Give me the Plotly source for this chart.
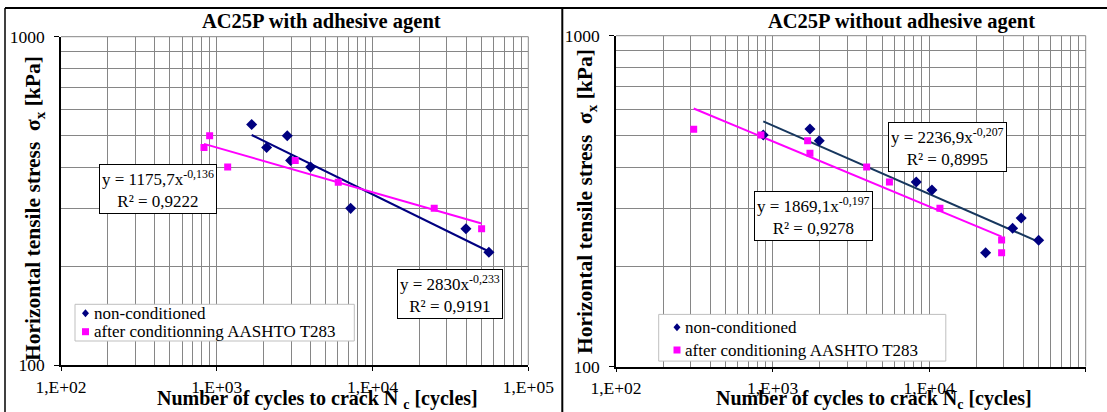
import plotly.graph_objects as go

W, H = 1107, 412
FONT = "Liberation Serif"

# ---------------- data ----------------
x_tick_vals = [100, 1000, 10000, 100000]
x_tick_text = ["1,E+02", "1,E+03", "1,E+04", "1,E+05"]
y_tick_vals = [100, 1000]
y_tick_text = ["100", "1000"]

# Left panel: AC25P with adhesive agent
left_title = "AC25P with adhesive agent"
left_nc_x = [1675, 2090, 2835, 2980, 4005, 7235, 39770, 55850]
left_nc_y = [540, 460, 499, 420, 401, 300, 260, 220.5]
left_c_x = [828, 900, 1175, 3190, 6025, 24890, 50150]
left_c_y = [460, 499, 401, 420, 360, 300, 260]
left_nc_fit = [2830, -0.233, "0,9191", "2830", "-0,233"]
left_c_fit = [1175.7, -0.136, "0,9222", "1175,7", "-0,136"]
left_names = ["non-conditioned", "after conditionning AASHTO T283"]

# Right panel: AC25P without adhesive agent
right_title = "AC25P without adhesive agent"
right_nc_x = [872, 1733, 1987, 8272, 10420, 22950, 34140, 38730, 50050]
right_nc_y = [501, 522, 481.5, 361, 341.6, 220.8, 261.7, 281, 240.7]
right_c_x = [313.5, 843, 1675, 1733, 3990, 5578, 11720, 29040, 29040]
right_c_y = [521, 501, 481.5, 441, 401, 361, 300.7, 241.2, 220.8]
right_nc_fit = [2236.9, -0.207, "0,8995", "2236,9", "-0,207"]
right_c_fit = [1869.1, -0.197, "0,9278", "1869,1", "-0,197"]
right_names = ["non-conditioned", "after conditioning AASHTO T283"]

minor_x = [m * 10 ** e for e in (2, 3, 4) for m in range(2, 10)]
minor_y = [m * 100 for m in range(2, 10)]

NAVY = "#000080"
MAG = "#FF00FF"
GRID = "#868686"

# ---------------- geometry (pixels) ----------------
L = dict(x0=61, x1=528.3, yt=36.7, yb=365)
R = dict(x0=616, x1=1085.7, yt=35.7, yb=366.5)


def px(x):
    return x / W


def py(y):
    return 1 - y / H


fig = go.Figure()


def fit_line(fit, xs):
    a, b = fit[0], fit[1]
    xe = [min(xs), max(xs)]
    return xe, [a * v ** b for v in xe]


def add_panel(suffix, nc_x, nc_y, c_x, c_y, nc_fit, c_fit, names, nc_line_color):
    xa = "x" + suffix
    ya = "y" + suffix
    lx, ly = fit_line(nc_fit, nc_x)
    fig.add_trace(go.Scatter(x=lx, y=ly, mode="lines", line=dict(color=nc_line_color, width=2),
                             xaxis=xa, yaxis=ya, showlegend=False, hoverinfo="skip"))
    lx, ly = fit_line(c_fit, c_x)
    fig.add_trace(go.Scatter(x=lx, y=ly, mode="lines", line=dict(color=MAG, width=2),
                             xaxis=xa, yaxis=ya, showlegend=False, hoverinfo="skip"))
    fig.add_trace(go.Scatter(x=nc_x, y=nc_y, mode="markers", name=names[0],
                             marker=dict(symbol="diamond", size=8.5, color=NAVY),
                             xaxis=xa, yaxis=ya, showlegend=False))
    fig.add_trace(go.Scatter(x=c_x, y=c_y, mode="markers", name=names[1],
                             marker=dict(symbol="square", size=7, color=MAG),
                             xaxis=xa, yaxis=ya, showlegend=False))


add_panel("", left_nc_x, left_nc_y, left_c_x, left_c_y, left_nc_fit, left_c_fit, left_names, NAVY)
add_panel("2", right_nc_x, right_nc_y, right_c_x, right_c_y, right_nc_fit, right_c_fit, right_names, "#17375E")

TICK_SIZE = 17.5


def xaxis_def(g, anchor):
    return dict(type="log", range=[2, 5], domain=[px(g["x0"]), px(g["x1"])], anchor=anchor,
                automargin=False,
                tickvals=x_tick_vals, ticktext=x_tick_text, ticks="outside", ticklen=4,
                tickcolor="black", showline=True, linecolor="black", linewidth=1.5,
                showgrid=True, gridcolor=GRID, gridwidth=1, zeroline=False,
                minor=dict(tickvals=minor_x, showgrid=True, gridcolor=GRID, gridwidth=1, ticks=""),
                tickfont=dict(family=FONT, size=TICK_SIZE, color="black"), ticklabelstandoff=1)


def yaxis_def(g, anchor):
    return dict(type="log", range=[2, 3], domain=[py(g["yb"]), py(g["yt"])], anchor=anchor,
                automargin=False,
                tickvals=y_tick_vals, ticktext=y_tick_text, ticks="outside", ticklen=5,
                tickcolor="black", showline=True, linecolor="black", linewidth=1.5,
                showgrid=True, gridcolor=GRID, gridwidth=1, zeroline=False,
                minor=dict(tickvals=minor_y, showgrid=True, gridcolor=GRID, gridwidth=1, ticks=""),
                tickfont=dict(family=FONT, size=TICK_SIZE, color="black"), ticklabelstandoff=6)


ann = []
shapes = []


def text_ann(x, y, text, size=17, bold=False, angle=0, xanchor="center"):
    if bold:
        text = "<b>" + text + "</b>"
    ann.append(dict(x=px(x), y=py(y), xref="paper", yref="paper", text=text, showarrow=False,
                    xanchor=xanchor, yanchor="middle", textangle=angle,
                    font=dict(family=FONT, size=size, color="black")))


def eq_ann(x, y, fit):
    text = "y = %sx<sup>%s</sup><br>R² = %s" % (fit[3], fit[4], fit[2])
    ann.append(dict(x=px(x), y=py(y), xref="paper", yref="paper", text=text, showarrow=False,
                    xanchor="center", yanchor="middle", align="center",
                    bgcolor="white", bordercolor="black", borderwidth=1, borderpad=2,
                    font=dict(family=FONT, size=17, color="black")))


def legend_box(x0, x1, y0, y1, names, sym_x, text_x, row_y):
    shapes.append(dict(type="rect", xref="paper", yref="paper", x0=px(x0), x1=px(x1),
                       y0=py(y0), y1=py(y1), line=dict(color="#BFBFBF", width=1),
                       fillcolor="white", layer="above"))
    # diamond key
    cx, cy = sym_x, row_y[0]
    shapes.append(dict(type="path", xref="paper", yref="paper",
                       path="M %f,%f L %f,%f L %f,%f L %f,%f Z" % (
                           px(cx), py(cy - 4), px(cx + 3.5), py(cy), px(cx), py(cy + 4), px(cx - 3.5), py(cy)),
                       fillcolor=NAVY, line=dict(width=0), layer="above"))
    # square key
    cx, cy = sym_x, row_y[1]
    shapes.append(dict(type="rect", xref="paper", yref="paper", x0=px(cx - 3.5), x1=px(cx + 3.5),
                       y0=py(cy + 3.5), y1=py(cy - 3.5), fillcolor=MAG, line=dict(width=0), layer="above"))
    for nm, ry in zip(names, row_y):
        text_ann(text_x, ry, nm, 17, False, 0, "left")


TITLE_SIZE = 20.5
text_ann(321, 22, left_title, TITLE_SIZE, True)
text_ann(901, 22, right_title, TITLE_SIZE, True)
ytitle = "Horizontal tensile stress  σ<sub>x</sub> [kPa]"
text_ann(34, 209, ytitle, 21.5, True, -90)
text_ann(586, 202, ytitle, 21.5, True, -90)
text_ann(317, 399, "Number of cycles to crack N <sub>c</sub> [cycles]", 20, True)
text_ann(874, 399, "Number of cycles to crack N<sub>c</sub> [cycles]", 20, True)

eq_ann(157.5, 188.7, left_c_fit)
eq_ann(449.5, 293.8, left_nc_fit)
eq_ann(947.8, 147.2, right_nc_fit)
eq_ann(813.8, 215.5, right_c_fit)

legend_box(75, 354.3, 304.3, 341, left_names, 85.5, 92, [313.3, 331.7])
legend_box(658.7, 945.8, 314.4, 361.1, right_names, 677, 683, [327.3, 350])

# panel frames
shapes.append(dict(type="line", xref="paper", yref="paper", x0=px(5), x1=px(5), y0=py(8), y1=py(420),
                   line=dict(color="black", width=1.5)))
shapes.append(dict(type="line", xref="paper", yref="paper", x0=px(5), x1=px(1110), y0=py(8), y1=py(8),
                   line=dict(color="black", width=2)))
shapes.append(dict(type="line", xref="paper", yref="paper", x0=px(562.3), x1=px(562.3), y0=py(8), y1=py(420),
                   line=dict(color="black", width=2)))
# gray top/right plot borders
for g in (L, R):
    shapes.append(dict(type="line", xref="paper", yref="paper", x0=px(g["x0"]), x1=px(g["x1"]),
                       y0=py(g["yt"]), y1=py(g["yt"]), line=dict(color=GRID, width=1), layer="below"))
    shapes.append(dict(type="line", xref="paper", yref="paper", x0=px(g["x1"]), x1=px(g["x1"]),
                       y0=py(g["yt"]), y1=py(g["yb"]), line=dict(color=GRID, width=1), layer="below"))

fig.update_layout(
    template="none",
    width=W, height=H, autosize=False,
    margin=dict(l=0, r=0, t=0, b=0, pad=0),
    paper_bgcolor="white", plot_bgcolor="white",
    xaxis=xaxis_def(L, "y"), yaxis=yaxis_def(L, "x"),
    xaxis2=xaxis_def(R, "y2"), yaxis2=yaxis_def(R, "x2"),
    showlegend=False,
    annotations=ann, shapes=shapes,
    font=dict(family=FONT, color="black"),
)

fig.write_html("out.html", config={"displayModeBar": False},
               post_script="document.body.style.margin='0';document.body.style.overflow='hidden';")
